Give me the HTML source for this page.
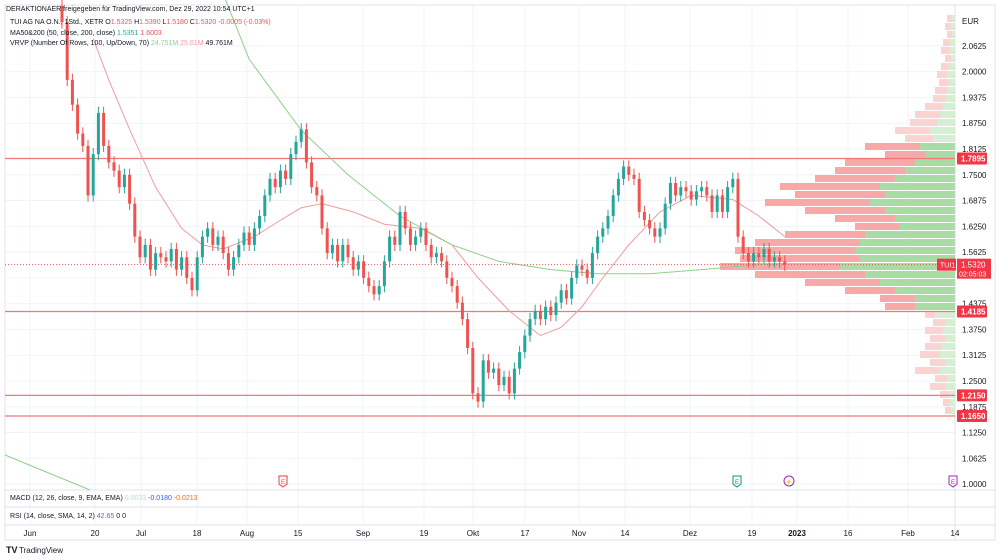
<!DOCTYPE html>
<html><head><meta charset="utf-8"><style>
body{margin:0;background:#fff;width:1000px;height:560px;overflow:hidden;font-family:"Liberation Sans",sans-serif;}
svg{position:absolute;left:0;top:0}
text{font-family:"Liberation Sans",sans-serif}
</style></head><body>
<svg id="c" width="1000" height="560"></svg>
<script>
const closes=[2.12,1.98,1.92,1.85,1.82,1.70,1.80,1.90,1.82,1.78,1.76,1.72,1.75,1.68,1.60,1.55,1.58,1.52,1.56,1.55,1.54,1.57,1.52,1.55,1.50,1.47,1.55,1.60,1.62,1.58,1.60,1.56,1.52,1.55,1.58,1.61,1.58,1.62,1.65,1.70,1.74,1.72,1.76,1.74,1.80,1.83,1.86,1.78,1.72,1.70,1.62,1.56,1.58,1.54,1.58,1.55,1.52,1.54,1.50,1.48,1.46,1.48,1.54,1.60,1.58,1.66,1.62,1.58,1.60,1.62,1.58,1.55,1.56,1.54,1.50,1.48,1.44,1.40,1.33,1.22,1.20,1.30,1.27,1.28,1.24,1.26,1.22,1.28,1.32,1.36,1.40,1.42,1.40,1.43,1.41,1.44,1.47,1.45,1.50,1.53,1.52,1.50,1.56,1.60,1.62,1.65,1.70,1.74,1.77,1.75,1.74,1.66,1.64,1.62,1.60,1.62,1.68,1.73,1.70,1.72,1.71,1.69,1.71,1.72,1.70,1.66,1.70,1.66,1.72,1.74,1.60,1.56,1.54,1.56,1.55,1.57,1.54,1.55,1.54,1.532];
const ma50=[2.08,1.98,1.86,1.72,1.62,1.58,1.57,1.60,1.64,1.67,1.68,1.66,1.63,1.62,1.58,1.50,1.42,1.36,1.38,1.43,1.50,1.58,1.66,1.70,1.69,1.65,1.60];
const ma50Idx=[6,9,13,18,23,27,31,37,42,46,50,56,62,69,75,80,86,92,96,100,104,109,115,121,129,134,139];
const ma200=[2.22,2.03,1.858,1.75,1.65,1.58,1.54,1.52,1.51,1.51,1.52,1.53,1.535];
const ma200Idx=[30,36,46,55,65,75,84,94,103,113,123,132,139];
const vpTotal=[8,10,8,12,14,10,14,18,16,20,22,30,40,45,60,50,90,70,110,120,140,175,160,190,150,120,100,170,200,220,215,235,200,150,110,75,70,30,22,30,25,30,35,25,40,20,25,15,12,10];
const vpUp=[3,4,3,5,5,4,6,8,6,8,10,12,15,18,25,22,35,30,40,50,60,75,70,85,70,60,55,90,95,100,95,115,90,75,60,40,40,20,10,12,10,14,15,10,15,8,10,6,5,4];
const priceTicks=["2.0625","2.0000","1.9375","1.8750","1.8125","1.7500","1.6875","1.6250","1.5625","1.5000","1.4375","1.3750","1.3125","1.2500","1.1875","1.1250","1.0625","1.0000"];
const levels=["1.7895","1.4185","1.2150","1.1650"];
const dateLabels=["Jun","20","Jul","18","Aug","15","Sep","19","Okt","17","Nov","14","Dez","19","2023","16","Feb","14"];
const dateX=[30,95,141,197,247,298,363,424,473,525,579,625,690,752,797,848,908,955];

const S=document.getElementById('c'),NS='http://www.w3.org/2000/svg';
function el(t,a,p){const e=document.createElementNS(NS,t);for(const k in a)e.setAttribute(k,a[k]);(p||S).appendChild(e);return e;}
const y=p=>149+(1.8125-p)*412.4;
const x=i=>62+i*5.2;
priceTicks.forEach(t=>{const g=el('line',{x1:5,x2:955,y1:y(+t),y2:y(+t),stroke:'#f0f3fa'});});
dateX.forEach(v=>{const g=el('line',{x1:v,x2:v,y1:5,y2:525,stroke:'#f0f3fa'});});
el('rect',{x:5,y:5,width:990,height:535,fill:'none',stroke:'#e0e3eb'});
el('line',{x1:955,x2:955,y1:5,y2:540,stroke:'#e0e3eb'});
[490,507,525].forEach(v=>el('line',{x1:5,x2:995,y1:v,y2:v,stroke:'#e0e3eb'}));
const vp=el('g',{});
vpTotal.forEach((w,i)=>{const top=15+i*8;const va=i>=16&&i<=36;
 const r=el('rect',{x:955-w,y:top,width:w,height:7,fill:va?'#f7a9a7':'#fbd3d2'},vp);
 const u=el('rect',{x:955-vpUp[i],y:top,width:vpUp[i],height:7,fill:va?'#a9dca3':'#d6eed3'},vp);});
levels.forEach(l=>{const g=el('line',{x1:5,x2:955,y1:y(+l),y2:y(+l),stroke:'#f0787a','stroke-width':1.2});});
let d=ma50.map((v,k)=>(k?'L':'M')+x(ma50Idx[k])+' '+y(v)).join('');
const m1=el('path',{d,fill:'none',stroke:'#f19c9e','stroke-width':1});
d=ma200.map((v,k)=>(k?'L':'M')+x(ma200Idx[k])+' '+y(v)).join('');
const m2=el('path',{d,fill:'none',stroke:'#8fd08a','stroke-width':1});
const m3=el('line',{x1:5,y1:455,x2:90,y2:490,stroke:'#8fd08a'});
closes.forEach((c,i)=>{const o=i?closes[i-1]:2.16;const up=c>=o;const col=up?'#26a69a':'#ef5350';const cx=x(i);
 const g=el('g',{});
 el('line',{x1:cx,x2:cx,y1:y(Math.max(o,c)+0.015),y2:y(Math.min(o,c)-0.015),stroke:col},g);
 const t=y(Math.max(o,c)),b=y(Math.min(o,c));
 el('rect',{x:cx-1.5,y:t,width:3,height:Math.max(1,b-t),fill:col},g);});
const last=closes[closes.length-1];
const pl=el('line',{x1:5,x2:955,y1:y(last),y2:y(last),stroke:'#ef5350','stroke-dasharray':'1 2'});
el('text',{x:962,y:24,'font-size':8,fill:'#131722'}).textContent='EUR';
priceTicks.forEach(t=>{if(t==='1.5000')return;const e=el('text',{x:962,y:y(+t)+3,'font-size':8,fill:'#131722'});e.textContent=t;});
levels.forEach(l=>{const g=el('g',{});
 el('rect',{x:957,y:y(+l)-6,width:30,height:12,fill:'#f23645',rx:1},g);el('text',{x:961,y:y(+l)+3,'font-size':8,fill:'#fff','font-weight':'bold'},g).textContent=l;});
const lb=el('g',{});
el('rect',{x:957,y:y(last)-6,width:34,height:20,fill:'#f23645'},lb);
el('text',{x:961,y:y(last)+3,'font-size':8,fill:'#fff'},lb).textContent=last.toFixed(4);
el('text',{x:959,y:y(last)+12,'font-size':7,fill:'#fff'},lb).textContent='02:05:03';
el('rect',{x:937,y:y(last)-6,width:19,height:12,fill:'#f23645'},lb);
el('text',{x:940,y:y(last)+3,'font-size':7,fill:'#fff'},lb).textContent='TUI1';
dateLabels.forEach((t,i)=>{const e=el('text',{x:dateX[i],y:536,'font-size':8,fill:'#131722','text-anchor':'middle','font-weight':t==='2023'?'bold':'normal'});e.textContent=t;});
[[283,'#f23645','E'],[737,'#089981','E'],[789,'#9c27b0','⚡'],[953,'#9c27b0','E']].forEach(a=>{const g=el('g',{});
 if(a[2]==='⚡')el('circle',{cx:a[0],cy:481,r:5,fill:'#fff',stroke:a[1]},g);else el('path',{d:`M${a[0]-4} 476h8v8l-4 3l-4-3z`,fill:'#fff',stroke:a[1]},g);
 el('text',{x:a[0],y:484,'font-size':6,fill:a[1],'text-anchor':'middle'},g).textContent=a[2];});
function tx(xx,yy,parts,name){const t=el('text',{x:xx,y:yy,'font-size':7});parts.forEach(p=>{const s=el('tspan',{fill:p[1]},t);s.textContent=p[0];});}
tx(6,11,[['DERAKTIONAER freigegeben für TradingView.com, Dez 29, 2022 10:54 UTC+1','#131722']],'header-title');
tx(10,24,[['TUI AG NA O.N., 1Std., XETR  O','#131722'],['1.5325','#ef5350'],['  H','#131722'],['1.5390','#ef5350'],['  L','#131722'],['1.5180','#ef5350'],['  C','#131722'],['1.5320  -0.0005 (-0.03%)','#ef5350']],'symbol-legend');
tx(10,35,[['MA50&200 (50, close, 200, close)  ','#131722'],['1.5351','#26a69a'],['  1.6003','#ef5350']],'ma-legend');
tx(10,45,[['VRVP (Number Of Rows, 100, Up/Down, 70)  ','#131722'],['24.751M','#8fd08a'],['  25.01M','#f19c9e'],['  49.761M','#131722']],'vrvp-legend');
tx(10,500,[['MACD (12, 26, close, 9, EMA, EMA)  ','#131722'],['0.0033','#b2dfdb'],['  -0.0180','#2962ff'],['  -0.0213','#ff6d00']],'macd-legend');
tx(10,518,[['RSI (14, close, SMA, 14, 2)  ','#131722'],['42.65','#7e57c2'],['  0  0','#131722']],'rsi-legend');
const lg=el('g',{});
el('text',{x:6,y:553,'font-size':9,'font-weight':'bold',fill:'#131722'},lg).textContent='TV';
el('text',{x:19,y:553,'font-size':8,fill:'#131722'},lg).textContent='TradingView';
</script>
</body></html>
